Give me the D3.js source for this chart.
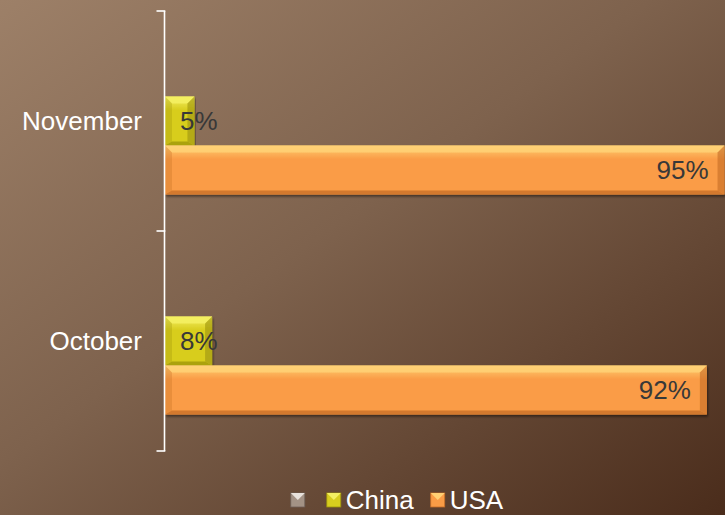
<!DOCTYPE html>
<html>
<head>
<meta charset="utf-8">
<script src="https://cdn.jsdelivr.net/npm/d3@7"></script>
<style>
  html, body { margin: 0; padding: 0; background: #6e5240; }
  svg { display: block; font-family: 'Liberation Sans', Arial, sans-serif; }
</style>
</head>
<body>
<svg id="chart" width="725" height="515"></svg>
<script>
// chart data
const categories = ['November', 'October'];
const seriesKeys = ['blank', 'China', 'USA'];
const seriesLabels = ['', 'China', 'USA'];
const chinaValues = [5, 8];
const usaValues = [95, 92];
const blankValues = [null, null];

const colors = {
  blank: { base: '#a39285', light: '#e8e2dc', dark: '#6e6058' },
  China: { base: '#d8cd1e', light: '#f4ef62', dark: '#9c930c' },
  USA:   { base: '#fa9c46', light: '#ffd074', dark: '#c56d26' }
};

const width = 725;
const height = 515;
const svg = d3.select('#chart');
const defs = svg.append('defs');

// background gradient
const bg = defs.append('linearGradient')
  .attr('id', 'bg')
  .attr('x1', 0).attr('y1', 0).attr('x2', 1).attr('y2', 1);
bg.append('stop').attr('offset', '0%').attr('stop-color', '#9d8068');
bg.append('stop').attr('offset', '45%').attr('stop-color', '#7e624d');
bg.append('stop').attr('offset', '100%').attr('stop-color', '#4a2c1b');

svg.append('rect')
  .attr('width', width)
  .attr('height', height)
  .attr('fill', 'url(#bg)');

// face gradients for bars
seriesKeys.forEach(k => {
  const g = defs.append('linearGradient')
    .attr('id', 'face-' + k)
    .attr('x1', 0).attr('y1', 0).attr('x2', 0).attr('y2', 1);
  g.append('stop').attr('offset', '0%').attr('stop-color', colors[k].light);
  g.append('stop').attr('offset', '28%').attr('stop-color', colors[k].base);
  g.append('stop').attr('offset', '100%').attr('stop-color', colors[k].base);
});

const shadow = defs.append('filter')
  .attr('id', 'shadow')
  .attr('x', '-5%').attr('y', '-20%').attr('width', '110%').attr('height', '150%');
shadow.append('feDropShadow')
  .attr('dx', 1).attr('dy', 2)
  .attr('stdDeviation', 1.2)
  .attr('flood-color', '#000')
  .attr('flood-opacity', 0.45);

// scales
const x = d3.scaleLinear().domain([0, 100]).range([165, 754]);
const yCat = d3.scaleBand().domain(categories).range([11, 451]);
const ySer = d3.scaleBand().domain(seriesKeys)
  .range([0, yCat.bandwidth()])
  .paddingInner(0)
  .paddingOuter(0.745);

const valuesByKey = { blank: blankValues, China: chinaValues, USA: usaValues };

const bars = [];
seriesKeys.forEach(k => {
  categories.forEach((c, i) => {
    const v = valuesByKey[k][i];
    if (v == null) return;
    bars.push({ key: k, cat: c, value: v });
  });
});

// bevelled bars
const barG = svg.append('g');
bars.forEach(d => {
  const x0 = x(0);
  const x1 = x(d.value);
  const y0 = yCat(d.cat) + ySer(d.key);
  const y1 = y0 + ySer.bandwidth();
  const b = Math.min(7, (x1 - x0) / 2 - 1);
  const col = colors[d.key];
  const g = barG.append('g').attr('filter', 'url(#shadow)');

  g.append('rect')
    .attr('x', x0).attr('y', y0)
    .attr('width', x1 - x0).attr('height', y1 - y0)
    .attr('fill', `url(#face-${d.key})`);

  const poly = (pts, fill, op) => g.append('polygon')
    .attr('points', pts.map(p => p.join(',')).join(' '))
    .attr('fill', fill)
    .attr('opacity', op);

  poly([[x0, y0], [x1, y0], [x1 - b, y0 + b], [x0 + b, y0 + b]], col.light, 0.9);
  poly([[x0, y1], [x1, y1], [x1 - b, y1 - 4], [x0 + b, y1 - 4]], col.dark, 0.75);
  poly([[x0, y0], [x0 + b, y0 + b], [x0 + b, y1 - 4], [x0, y1]], col.dark, 0.3);
  poly([[x1, y0], [x1 - b, y0 + b], [x1 - b, y1 - 4], [x1, y1]], col.dark, 0.6);
});

// value labels
const labelG = svg.append('g')
  .attr('font-size', 26)
  .attr('fill', '#383838');
bars.forEach(d => {
  const x0 = x(0);
  const x1 = x(d.value);
  const yc = yCat(d.cat) + ySer(d.key) + ySer.bandwidth() / 2;
  const txt = labelG.append('text')
    .attr('y', yc)
    .attr('dy', '0.36em')
    .text(d.value + '%');
  const tw = txt.node().getComputedTextLength();
  if (x1 - x0 > tw + 34) {
    txt.attr('x', Math.min(x1, width) - 16).attr('text-anchor', 'end');
  } else {
    txt.attr('x', x0 + 15).attr('text-anchor', 'start');
  }
});

// category axis
const axisX = 164.5;
const axisG = svg.append('g')
  .attr('stroke', '#fff')
  .attr('stroke-width', 1.6)
  .attr('fill', 'none');
const [ya, yb] = yCat.range();
axisG.append('line')
  .attr('x1', axisX).attr('x2', axisX)
  .attr('y1', ya).attr('y2', yb);
const tickYs = categories.map(c => yCat(c)).concat([yb]);
axisG.selectAll('line.tick')
  .data(tickYs)
  .join('line')
  .attr('class', 'tick')
  .attr('x1', axisX - 8).attr('x2', axisX + 0.8)
  .attr('y1', d => d).attr('y2', d => d);

svg.append('g')
  .selectAll('text')
  .data(categories)
  .join('text')
  .attr('x', 142)
  .attr('y', d => yCat(d) + yCat.bandwidth() / 2)
  .attr('dy', '0.36em')
  .attr('text-anchor', 'end')
  .attr('font-size', 26)
  .attr('fill', '#fff')
  .text(d => d);

// legend
const legend = svg.append('g');
let lx = 0;
seriesKeys.forEach((k, i) => {
  const item = legend.append('g');
  const m = item.append('g');
  m.append('rect')
    .attr('x', 0).attr('y', -7)
    .attr('width', 14).attr('height', 14)
    .attr('fill', colors[k].base)
    .attr('stroke', colors[k].dark)
    .attr('stroke-width', 0.8);
  m.append('polygon')
    .attr('points', '0,-7 14,-7 7,0')
    .attr('fill', colors[k].light);
  const t = item.append('text')
    .attr('x', 19)
    .attr('dy', '0.35em')
    .attr('font-size', 26)
    .attr('fill', '#fff')
    .text(seriesLabels[i]);
  const w = 19 + (seriesLabels[i] ? t.node().getComputedTextLength() : 0);
  item.attr('transform', `translate(${lx},0)`);
  lx += w + 17;
});
const legendW = lx - 17;
legend.attr('transform', `translate(${397 - legendW / 2},500)`);
</script>
</body>
</html>
